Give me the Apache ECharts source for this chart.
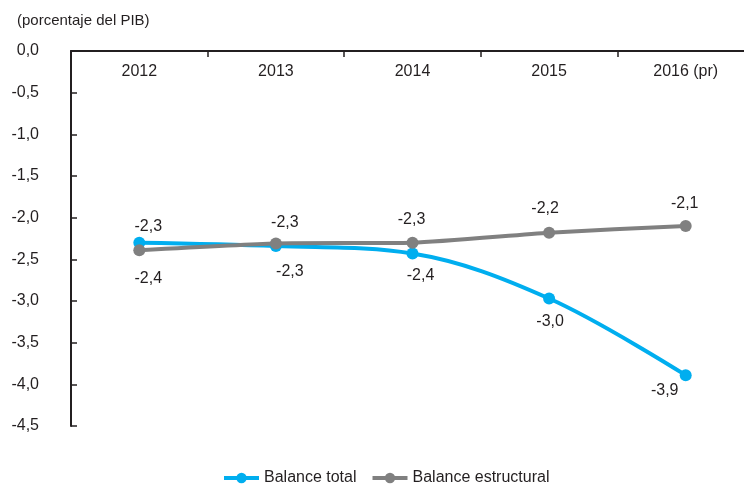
<!DOCTYPE html>
<html>
<head>
<meta charset="utf-8">
<script src="https://cdn.jsdelivr.net/npm/echarts@6/dist/echarts.min.js"></script>
<style>html,body{margin:0;padding:0;background:#fff;overflow:hidden}#c{width:754px;height:486px}</style>
</head>
<body>
<div id="c"></div>
<script>
const categories = ['2012', '2013', '2014', '2015', '2016 (pr)'];
const balanceTotal = [-2.30, -2.34, -2.43, -2.97, -3.89];
const balanceEstructural = [-2.39, -2.31, -2.30, -2.18, -2.10];
const yTicks = { min: -4.5, max: 0, interval: 0.5 };

// label offsets (style, relative to each point centre)
const totalLabelOffsets = [[9, -16], [14, 26], [8, 22], [1, 23], [-21, 15]];
const estrLabelOffsets = [[9, 28], [9, -21], [-1, -23], [-4, -24], [-1, -22]];

const FONT = 'Liberation Sans, Arial, Helvetica, sans-serif';
const TXT = '#231f20';
const fmt = v => v.toFixed(1).replace('.', ',');

function withLabels(values, offsets) {
  return values.map((v, i) => ({
    value: v,
    label: { offset: offsets[i] }
  }));
}

const chart = echarts.init(document.getElementById('c'), null, { renderer: 'canvas' });
chart.setOption({
  animation: false,
  backgroundColor: '#fff',
  textStyle: { fontFamily: FONT },
  title: {
    text: '(porcentaje del PIB)',
    left: 12, top: 8,
    textStyle: { fontFamily: FONT, fontSize: 15, fontWeight: 'normal', color: TXT }
  },
  grid: { left: 71, right: 0, top: 51, bottom: 60, containLabel: false },
  legend: {
    top: 470, left: 222, padding: 0,
    itemWidth: 35, itemHeight: 13, itemGap: 14,
    lineStyle: { width: 4 },
    textStyle: { fontFamily: FONT, fontSize: 16, color: TXT },
    data: ['Balance total', 'Balance estructural']
  },
  xAxis: {
    type: 'category',
    position: 'top',
    data: categories,
    axisLine: { lineStyle: { color: '#231f20', width: 2 } },
    axisTick: { show: true, inside: true, length: 6, lineStyle: { color: '#231f20', width: 1.5 } },
    axisLabel: { inside: true, margin: 13, fontSize: 16, color: TXT, fontFamily: FONT },
    splitLine: { show: false }
  },
  yAxis: {
    type: 'value',
    min: yTicks.min, max: yTicks.max, interval: yTicks.interval,
    axisLine: { show: true, lineStyle: { color: '#231f20', width: 2 } },
    axisTick: { show: true, inside: true, length: 6, lineStyle: { color: '#231f20', width: 1.5 } },
    axisLabel: { margin: 32, fontSize: 16, color: TXT, fontFamily: FONT, formatter: v => fmt(v) },
    splitLine: { show: false }
  },
  series: [
    {
      name: 'Balance total',
      type: 'line',
      smooth: 0.35,
      data: withLabels(balanceTotal, totalLabelOffsets),
      symbol: 'circle', symbolSize: 12,
      itemStyle: { color: '#00aeef' },
      lineStyle: { color: '#00aeef', width: 4 },
      label: {
        show: true, position: 'inside', fontSize: 16, color: TXT, fontFamily: FONT,
        formatter: p => fmt(p.value)
      },
      z: 2
    },
    {
      name: 'Balance estructural',
      type: 'line',
      smooth: 0.2,
      data: withLabels(balanceEstructural, estrLabelOffsets),
      symbol: 'circle', symbolSize: 12,
      itemStyle: { color: '#808080' },
      lineStyle: { color: '#808080', width: 4 },
      label: {
        show: true, position: 'inside', fontSize: 16, color: TXT, fontFamily: FONT,
        formatter: p => fmt(p.value)
      },
      z: 3
    }
  ]
});
</script>
</body>
</html>
